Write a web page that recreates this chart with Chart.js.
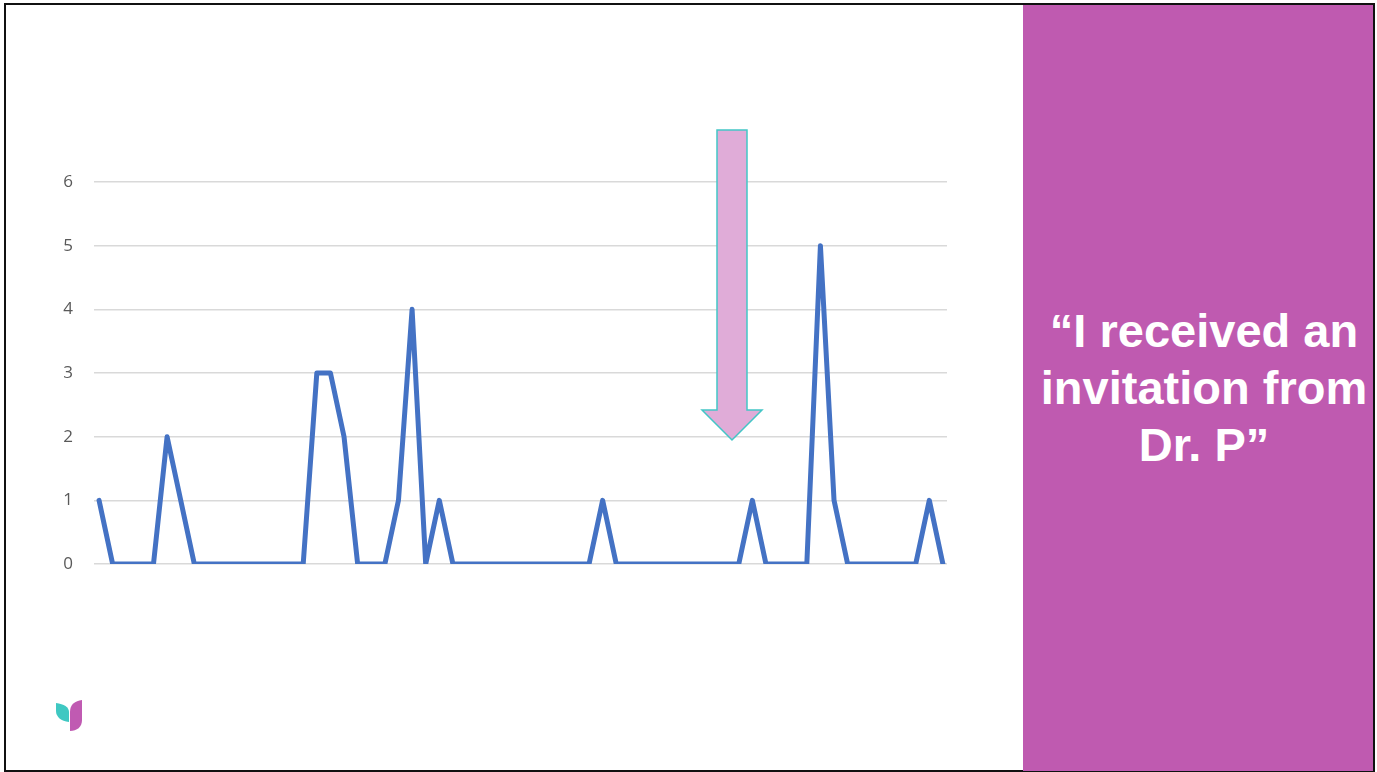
<!DOCTYPE html>
<html>
<head>
<meta charset="utf-8">
<script src="https://cdn.jsdelivr.net/npm/chart.js@4"></script>
<style>
  html, body { margin: 0; padding: 0; background: #fff; }
  body { width: 1377px; height: 772px; position: relative; overflow: hidden; font-family: "Liberation Sans", Arial, sans-serif; }
  #frame { position: absolute; left: 4px; top: 3px; width: 1371px; height: 769px; border: 2px solid #111; box-sizing: border-box; }
  #side { position: absolute; left: 1023px; top: 5px; width: 350px; height: 766px; background: #bf5ab0; }
  #quote { position: absolute; left: 1023px; top: 302px; width: 362px; text-align: center; color: #fff; font-weight: bold; font-size: 47px; line-height: 57px; }
  #wrap { position: absolute; left: 0; top: 0; width: 1022px; height: 772px; }
  svg { position: absolute; left: 0; top: 0; }
</style>
</head>
<body>
<div id="frame"></div>
<div id="side"></div>
<div id="quote">“I received an<br>invitation from<br>Dr. P”</div>
<div id="wrap"><canvas id="chart"></canvas></div>
<svg width="1022" height="772">
  <polygon points="717,130 747,130 747,410 762,410 732,440 702,410 717,410" fill="#e0acd8" stroke="#43c6c6" stroke-width="1.5"/>
  <path d="M56,703 C64,704 69,707 69,712 L69,722 C61,721 56,717 56,711 Z" fill="#3fc8c2"/>
  <path d="M82,700 L82,720 C82,727 77,731 70,731 L70,712 C70,704 75,701 82,700 Z" fill="#c05ab2"/>
</svg>
<script>
// weekly counts, one point per period
const periods = Array.from({ length: 63 }, (_, i) => i);
const counts = [
  1, 0, 0, 0, 0, 2, 1, 0, 0, 0,
  0, 0, 0, 0, 0, 0, 3, 3, 2, 0,
  0, 0, 1, 4, 0, 1, 0, 0, 0, 0,
  0, 0, 0, 0, 0, 0, 0, 1, 0, 0,
  0, 0, 0, 0, 0, 0, 0, 0, 1, 0,
  0, 0, 0, 5, 1, 0, 0, 0, 0, 0,
  0, 1, 0
];
const yTicks = [0, 1, 2, 3, 4, 5, 6];

const canvas = document.getElementById('chart');
canvas.style.width = '1022px';
canvas.style.height = '772px';

new Chart(canvas, {
  type: 'line',
  data: {
    datasets: [{
      data: periods.map((p, i) => ({ x: p, y: counts[i] })),
      borderColor: '#4472c4',
      borderWidth: 5,
      borderJoinStyle: 'round',
      borderCapStyle: 'round',
      pointRadius: 0,
      tension: 0,
      fill: false,
    }],
  },
  options: {
    responsive: false,
    animation: false,
    layout: { padding: { top: 182, bottom: 208, left: 40, right: 75 } },
    plugins: { legend: { display: false }, tooltip: { enabled: false } },
    scales: {
      x: {
        type: 'linear',
        min: -0.37,
        max: 62.3,
        display: false,
      },
      y: {
        min: 0,
        max: 6,
        afterBuildTicks: (axis) => { axis.ticks = yTicks.map(v => ({ value: v })); },
        afterFit: (axis) => { axis.width = 54; },
        border: { display: false },
        grid: { color: '#d9d9d9', lineWidth: 1.5, drawTicks: false },
        ticks: { padding: 21, color: '#595959', font: { size: 17, family: '"Open Sans", "Noto Sans", sans-serif' } },
      },
    },
  },
});
</script>
</body>
</html>
